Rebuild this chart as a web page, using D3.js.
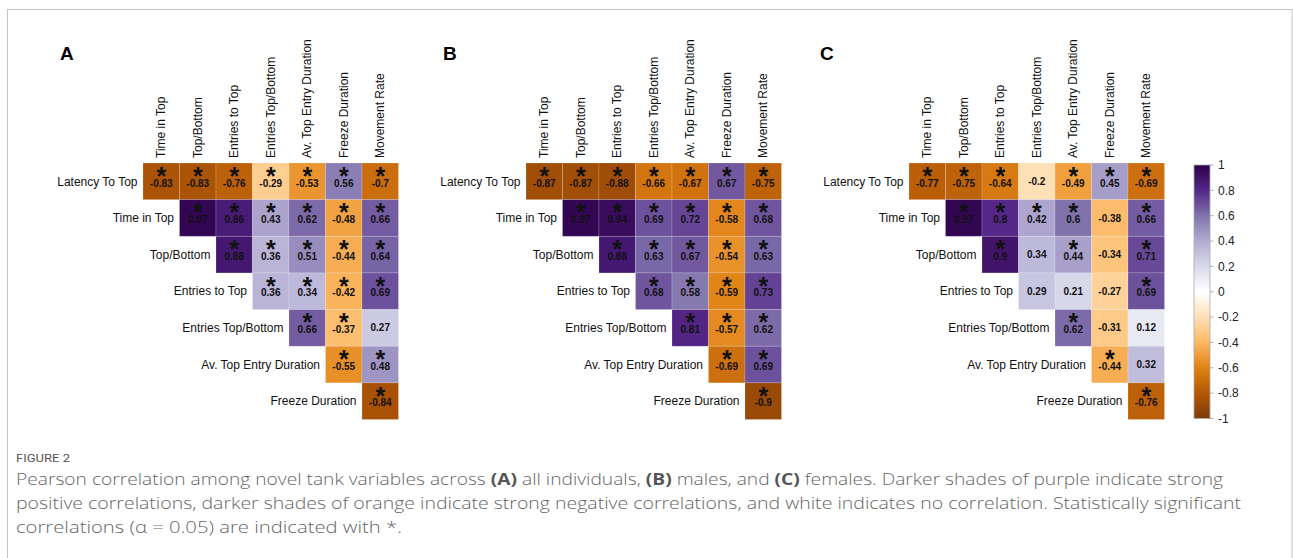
<!DOCTYPE html>
<html>
<head>
<meta charset="utf-8">
<script src="https://cdn.jsdelivr.net/npm/d3@7"></script>
<style>
  html, body { margin: 0; padding: 0; background: #fff; }
  svg { display: block; }
</style>
</head>
<body>
<svg id="chart" width="1293" height="558"></svg>
<script>
// ---------- DATA ----------
const rowLabels = ["Latency To Top", "Time in Top", "Top/Bottom", "Entries to Top",
  "Entries Top/Bottom", "Av. Top Entry Duration", "Freeze Duration"];
const colLabels = ["Time in Top", "Top/Bottom", "Entries to Top", "Entries Top/Bottom",
  "Av. Top Entry Duration", "Freeze Duration", "Movement Rate"];

// upper-triangle rows: row i holds columns i..6
const valuesA = [
  [-0.83, -0.83, -0.76, -0.29, -0.53, 0.56, -0.7],
  [0.97, 0.86, 0.43, 0.62, -0.48, 0.66],
  [0.88, 0.36, 0.51, -0.44, 0.64],
  [0.36, 0.34, -0.42, 0.69],
  [0.66, -0.37, 0.27],
  [-0.55, 0.48],
  [-0.84]
];
const sigA = [
  [1, 1, 1, 1, 1, 1, 1],
  [1, 1, 1, 1, 1, 1],
  [1, 1, 1, 1, 1],
  [1, 1, 1, 1],
  [1, 1, 0],
  [1, 1],
  [1]
];
const valuesB = [
  [-0.87, -0.87, -0.88, -0.66, -0.67, 0.67, -0.75],
  [0.97, 0.94, 0.69, 0.72, -0.58, 0.68],
  [0.88, 0.63, 0.67, -0.54, 0.63],
  [0.68, 0.58, -0.59, 0.73],
  [0.81, -0.57, 0.62],
  [-0.69, 0.69],
  [-0.9]
];
const sigB = [
  [1, 1, 1, 1, 1, 1, 1],
  [1, 1, 1, 1, 1, 1],
  [1, 1, 1, 1, 1],
  [1, 1, 1, 1],
  [1, 1, 1],
  [1, 1],
  [1]
];
const valuesC = [
  [-0.77, -0.75, -0.64, -0.2, -0.49, 0.45, -0.69],
  [0.97, 0.8, 0.42, 0.6, -0.38, 0.66],
  [0.9, 0.34, 0.44, -0.34, 0.71],
  [0.29, 0.21, -0.27, 0.69],
  [0.62, -0.31, 0.12],
  [-0.44, 0.32],
  [-0.76]
];
const sigC = [
  [1, 1, 1, 0, 1, 1, 1],
  [1, 1, 1, 1, 0, 1],
  [1, 0, 1, 0, 1],
  [0, 0, 0, 1],
  [1, 0, 0],
  [1, 0],
  [1]
];
const panelLetters = ["A", "B", "C"];
const legendTicks = [1, 0.8, 0.6, 0.4, 0.2, 0, -0.2, -0.4, -0.6, -0.8, -1];
const legendTickLabels = ["1", "0.8", "0.6", "0.4", "0.2", "0", "-0.2", "-0.4", "-0.6", "-0.8", "-1"];
const paletteStops = [-1, -0.8, -0.6, -0.4, -0.2, 0, 0.2, 0.4, 0.6, 0.8, 1];
const paletteColors = ["#7f3b08", "#b35806", "#e08214", "#fdb863", "#fee0b6", "#ffffff",
  "#d8daeb", "#b2abd2", "#8073ac", "#542788", "#2d004b"];

// ---------- CHART ----------
const svg = d3.select("#chart");
const color = d3.scaleLinear().domain(paletteStops).range(paletteColors).interpolate(d3.interpolateRgb);

// frame
svg.append("rect").attr("x", 7.5).attr("y", 9.5).attr("width", 1284.5).attr("height", 600)
  .attr("fill", "none").attr("stroke", "#c4c4c4").attr("stroke-width", 1);

const panels = [
  { letter: panelLetters[0], values: valuesA, sig: sigA, x0: 143, lx: 60 },
  { letter: panelLetters[1], values: valuesB, sig: sigB, x0: 526, lx: 443 },
  { letter: panelLetters[2], values: valuesC, sig: sigC, x0: 909, lx: 820 }
];
const gridW = 255.5, gridTop = 163, gridH = 256.5;
const font = "Liberation Sans, Arial, sans-serif";

panels.forEach(p => {
  const g = svg.append("g");
  const x = d3.scaleBand().domain(colLabels).range([p.x0, p.x0 + gridW]);
  const y = d3.scaleBand().domain(rowLabels).range([gridTop, gridTop + gridH]);

  const cells = [];
  p.values.forEach((row, i) => {
    row.forEach((v, k) => {
      cells.push({ r: rowLabels[i], c: colLabels[i + k], v: v, s: p.sig[i][k] });
    });
  });

  g.selectAll("rect.cell").data(cells).join("rect")
    .attr("class", "cell")
    .attr("x", d => x(d.c)).attr("y", d => y(d.r))
    .attr("width", x.bandwidth()).attr("height", y.bandwidth())
    .attr("fill", d => color(d.v))
    .attr("stroke", "rgba(255,255,255,0.22)").attr("stroke-width", 0.8);

  // stars
  g.selectAll("text.star").data(cells.filter(d => d.s)).join("text")
    .attr("class", "star")
    .attr("x", d => x(d.c) + x.bandwidth() / 2)
    .attr("y", d => y(d.r) + y.bandwidth() / 2 + 3.5)
    .attr("text-anchor", "middle")
    .attr("font-family", font).attr("font-size", 25).attr("font-weight", "bold").attr("fill", "#111")
    .text("*");

  // values
  g.selectAll("text.val").data(cells).join("text")
    .attr("class", "val")
    .attr("x", d => x(d.c) + x.bandwidth() / 2)
    .attr("y", d => y(d.r) + y.bandwidth() / 2 + (d.s ? 5.2 : 3.6))
    .attr("text-anchor", "middle")
    .attr("font-family", font).attr("font-size", 10).attr("font-weight", "bold").attr("fill", "#111")
    .text(d => String(d.v));

  // column labels
  g.selectAll("text.col").data(colLabels).join("text")
    .attr("class", "col")
    .attr("transform", d => `translate(${x(d) + x.bandwidth() / 2},158) rotate(-90)`)
    .attr("dy", "0.35em")
    .attr("font-family", font).attr("font-size", 12).attr("fill", "#111")
    .text(d => d);

  // row labels
  g.selectAll("text.row").data(rowLabels).join("text")
    .attr("class", "row")
    .attr("x", (d, i) => x(colLabels[i]) - 5.5)
    .attr("y", d => y(d) + y.bandwidth() / 2)
    .attr("dy", "0.35em")
    .attr("text-anchor", "end")
    .attr("font-family", font).attr("font-size", 12).attr("fill", "#111")
    .text(d => d);

  // panel letter
  g.append("text").attr("x", p.lx).attr("y", 60)
    .attr("font-family", font).attr("font-size", 19).attr("font-weight", "bold").attr("fill", "#000")
    .text(p.letter);
});

// ---------- LEGEND ----------
const ly = d3.scaleLinear().domain([-1, 1]).range([418.5, 165]);
const defs = svg.append("defs");
const grad = defs.append("linearGradient").attr("id", "cbar")
  .attr("x1", 0).attr("y1", 1).attr("x2", 0).attr("y2", 0);
paletteStops.forEach((s, i) => {
  grad.append("stop").attr("offset", (s + 1) / 2).attr("stop-color", paletteColors[i]);
});
svg.append("rect").attr("x", 1194).attr("y", ly(1)).attr("width", 16).attr("height", ly(-1) - ly(1))
  .attr("fill", "url(#cbar)").attr("stroke", "#aaa").attr("stroke-width", 0.8);

const lg = svg.append("g");
lg.selectAll("line").data(legendTicks).join("line")
  .attr("x1", 1210).attr("x2", 1213.5)
  .attr("y1", d => ly(d)).attr("y2", d => ly(d))
  .attr("stroke", "#999").attr("stroke-width", 0.8);
lg.selectAll("text").data(legendTicks).join("text")
  .attr("x", 1218).attr("y", d => ly(d)).attr("dy", "0.35em")
  .attr("font-family", font).attr("font-size", 12).attr("fill", "#222")
  .text((d, i) => legendTickLabels[i]);

// ---------- CAPTION ----------
svg.append("text").attr("x", 16).attr("y", 462)
  .attr("font-family", "Roboto, sans-serif").attr("font-size", 11.5).attr("fill", "#555")
  .attr("textLength", 54).attr("lengthAdjust", "spacingAndGlyphs")
  .text("FIGURE 2");

const capFont = "Open Sans, sans-serif";
const capLines = [
  { y: 485, len: 1207, parts: [["Pearson correlation among novel tank variables across ", 0], ["(A)", 1], [" all individuals, ", 0], ["(B)", 1], [" males, and ", 0], ["(C)", 1], [" females. Darker shades of purple indicate strong", 0]] },
  { y: 509, len: 1225, parts: [["positive correlations, darker shades of orange indicate strong negative correlations, and white indicates no correlation. Statistically significant", 0]] },
  { y: 533, len: 386, parts: [["correlations (α = 0.05) are indicated with *.", 0]] }
];
capLines.forEach(l => {
  const t = svg.append("text").attr("x", 16).attr("y", l.y)
    .attr("font-family", capFont).attr("font-size", 16).attr("font-weight", 300).attr("fill", "#666")
    .attr("textLength", l.len).attr("lengthAdjust", "spacingAndGlyphs");
  l.parts.forEach(pt => {
    t.append("tspan").attr("font-weight", pt[1] ? 700 : 300).attr("fill", pt[1] ? "#555" : "#666").text(pt[0]);
  });
});
</script>
</body>
</html>
